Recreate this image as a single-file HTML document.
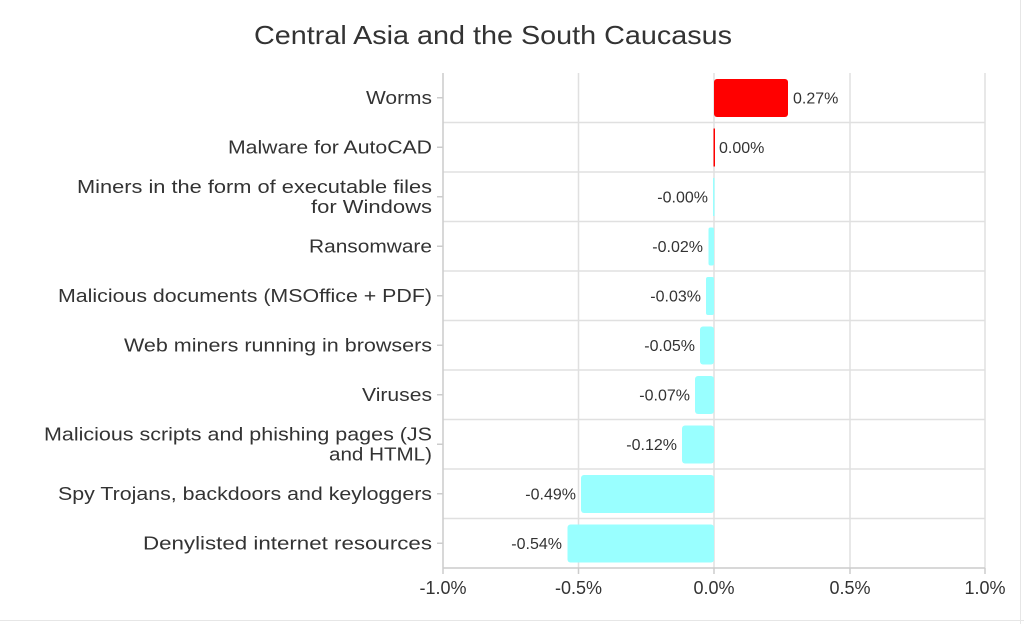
<!DOCTYPE html>
<html><head><meta charset="utf-8"><style>
html,body{margin:0;padding:0;background:#fff;}
svg{display:block;font-family:"Liberation Sans",sans-serif;}
</style></head><body>
<svg width="1024" height="624" viewBox="0 0 1024 624">
<rect x="0" y="0" width="1024" height="624" fill="#fff"/>
<line x1="0" y1="620.5" x2="1024" y2="620.5" stroke="#e6e6e6"/>
<line x1="1020.5" y1="0" x2="1020.5" y2="624" stroke="#e6e6e6"/>
<text x="493" y="44" text-anchor="middle" font-size="26" fill="#333" textLength="478" lengthAdjust="spacingAndGlyphs">Central Asia and the South Caucasus</text>
<g stroke="#e0e0e0" stroke-width="1.5">
<line x1="578.5" y1="73" x2="578.5" y2="568"/>
<line x1="714" y1="73" x2="714" y2="568"/>
<line x1="850" y1="73" x2="850" y2="568"/>
<line x1="985" y1="73" x2="985" y2="568"/>
<line x1="443" y1="122.5" x2="985" y2="122.5"/>
<line x1="443" y1="172" x2="985" y2="172"/>
<line x1="443" y1="221.5" x2="985" y2="221.5"/>
<line x1="443" y1="271" x2="985" y2="271"/>
<line x1="443" y1="320.5" x2="985" y2="320.5"/>
<line x1="443" y1="370" x2="985" y2="370"/>
<line x1="443" y1="419.5" x2="985" y2="419.5"/>
<line x1="443" y1="469" x2="985" y2="469"/>
<line x1="443" y1="518.5" x2="985" y2="518.5"/>
</g>
<g stroke="#cccccc" stroke-width="1.5">
<line x1="443" y1="73" x2="443" y2="568"/>
<line x1="443" y1="568" x2="985" y2="568"/>
<line x1="443" y1="568" x2="443" y2="574"/>
<line x1="578.5" y1="568" x2="578.5" y2="574"/>
<line x1="714" y1="568" x2="714" y2="574"/>
<line x1="850" y1="568" x2="850" y2="574"/>
<line x1="985" y1="568" x2="985" y2="574"/>
<line x1="437" y1="97.75" x2="443" y2="97.75"/>
<line x1="437" y1="147.25" x2="443" y2="147.25"/>
<line x1="437" y1="196.75" x2="443" y2="196.75"/>
<line x1="437" y1="246.25" x2="443" y2="246.25"/>
<line x1="437" y1="295.75" x2="443" y2="295.75"/>
<line x1="437" y1="345.25" x2="443" y2="345.25"/>
<line x1="437" y1="394.75" x2="443" y2="394.75"/>
<line x1="437" y1="444.25" x2="443" y2="444.25"/>
<line x1="437" y1="493.75" x2="443" y2="493.75"/>
<line x1="437" y1="543.25" x2="443" y2="543.25"/>
</g>
<g fill="#333" font-size="18" text-anchor="end">
<text x="432" y="104" textLength="66" lengthAdjust="spacingAndGlyphs">Worms</text>
<text x="432" y="153.5" textLength="204" lengthAdjust="spacingAndGlyphs">Malware for AutoCAD</text>
<text x="432" y="193" textLength="355" lengthAdjust="spacingAndGlyphs">Miners in the form of executable files</text>
<text x="432" y="213" textLength="121" lengthAdjust="spacingAndGlyphs">for Windows</text>
<text x="432" y="252.5" textLength="123" lengthAdjust="spacingAndGlyphs">Ransomware</text>
<text x="432" y="302" textLength="374" lengthAdjust="spacingAndGlyphs">Malicious documents (MSOffice + PDF)</text>
<text x="432" y="351.5" textLength="308" lengthAdjust="spacingAndGlyphs">Web miners running in browsers</text>
<text x="432" y="401" textLength="70" lengthAdjust="spacingAndGlyphs">Viruses</text>
<text x="432" y="440.5" textLength="388" lengthAdjust="spacingAndGlyphs">Malicious scripts and phishing pages (JS</text>
<text x="432" y="460.5" textLength="103" lengthAdjust="spacingAndGlyphs">and HTML)</text>
<text x="432" y="500" textLength="374" lengthAdjust="spacingAndGlyphs">Spy Trojans, backdoors and keyloggers</text>
<text x="432" y="549.5" textLength="289" lengthAdjust="spacingAndGlyphs">Denylisted internet resources</text>
</g>
<g fill="#333" font-size="18" text-anchor="middle">
<text x="443" y="594">-1.0%</text>
<text x="578.5" y="594">-0.5%</text>
<text x="714" y="594">0.0%</text>
<text x="850" y="594">0.5%</text>
<text x="985" y="594">1.0%</text>
</g>
<rect x="714" y="79" width="74" height="38" rx="3" fill="#ff0000"/>
<rect x="713.5" y="128.5" width="1.5" height="38" fill="#ff0000"/>
<rect x="713" y="178" width="1.5" height="38" fill="#99ffff"/>
<rect x="708.5" y="227.5" width="5.5" height="38" rx="2" fill="#99ffff"/>
<rect x="706" y="277" width="8" height="38" rx="2" fill="#99ffff"/>
<rect x="700" y="326.5" width="14" height="38" rx="3" fill="#99ffff"/>
<rect x="695" y="376" width="19" height="38" rx="3" fill="#99ffff"/>
<rect x="682" y="425.5" width="32" height="38" rx="3" fill="#99ffff"/>
<rect x="581" y="475" width="133" height="38" rx="3" fill="#99ffff"/>
<rect x="567.5" y="524.5" width="146.5" height="38" rx="3" fill="#99ffff"/>
<g fill="#333" font-size="16">
<text x="793" y="103.5">0.27%</text>
<text x="719" y="153">0.00%</text>
<g text-anchor="end">
<text x="708" y="202.5">-0.00%</text>
<text x="703" y="252">-0.02%</text>
<text x="701" y="301.5">-0.03%</text>
<text x="695" y="351">-0.05%</text>
<text x="690" y="400.5">-0.07%</text>
<text x="677" y="450">-0.12%</text>
<text x="576" y="499.5">-0.49%</text>
<text x="562" y="549">-0.54%</text>
</g>
</g>
</svg>
</body></html>
